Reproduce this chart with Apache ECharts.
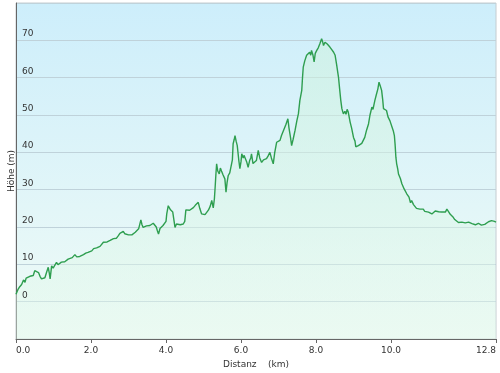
<!DOCTYPE html>
<html><head><meta charset="utf-8">
<script src="https://cdn.jsdelivr.net/npm/echarts@6/dist/echarts.min.js"></script>
<style>html,body{margin:0;padding:0;background:#fff}#c{width:500px;height:373px}</style>
</head><body><div id="c"></div>
<script>
const distances = [0.00,0.05,0.10,0.15,0.20,0.24,0.27,0.32,0.37,0.42,0.46,0.50,0.55,0.60,0.64,0.68,0.72,0.77,0.82,0.86,0.89,0.91,0.95,0.99,1.04,1.08,1.12,1.17,1.21,1.26,1.30,1.35,1.39,1.44,1.50,1.54,1.57,1.62,1.66,1.70,1.75,1.80,1.86,1.92,1.97,2.02,2.07,2.11,2.15,2.19,2.24,2.29,2.33,2.38,2.43,2.47,2.51,2.55,2.60,2.64,2.68,2.73,2.77,2.82,2.86,2.90,2.95,3.00,3.05,3.09,3.13,3.18,3.22,3.27,3.31,3.33,3.36,3.39,3.44,3.48,3.53,3.57,3.62,3.66,3.70,3.74,3.77,3.80,3.84,3.88,3.92,3.97,4.00,4.02,4.06,4.09,4.12,4.15,4.18,4.21,4.24,4.28,4.33,4.38,4.42,4.46,4.50,4.53,4.58,4.63,4.68,4.73,4.78,4.82,4.86,4.90,4.95,5.00,5.04,5.08,5.13,5.18,5.22,5.26,5.29,5.31,5.33,5.35,5.38,5.42,5.45,5.48,5.52,5.57,5.60,5.63,5.66,5.70,5.75,5.77,5.79,5.82,5.84,5.87,5.90,5.94,5.97,6.00,6.02,6.06,6.08,6.11,6.15,6.19,6.23,6.26,6.28,6.32,6.37,6.41,6.44,6.46,6.50,6.55,6.60,6.64,6.68,6.72,6.77,6.81,6.86,6.90,6.95,7.00,7.04,7.08,7.12,7.16,7.20,7.25,7.28,7.32,7.35,7.39,7.44,7.49,7.53,7.57,7.60,7.62,7.64,7.66,7.70,7.75,7.79,7.83,7.86,7.88,7.92,7.95,7.98,8.02,8.06,8.10,8.15,8.18,8.20,8.24,8.27,8.30,8.34,8.37,8.42,8.47,8.51,8.55,8.60,8.63,8.66,8.69,8.73,8.77,8.80,8.83,8.86,8.91,8.95,9.00,9.04,9.06,9.09,9.13,9.18,9.22,9.26,9.30,9.35,9.40,9.44,9.49,9.52,9.55,9.57,9.61,9.65,9.68,9.71,9.75,9.78,9.80,9.84,9.88,9.92,9.97,10.01,10.06,10.09,10.11,10.13,10.15,10.18,10.20,10.25,10.29,10.35,10.42,10.48,10.52,10.55,10.60,10.64,10.68,10.72,10.77,10.82,10.86,10.90,10.95,11.00,11.04,11.09,11.13,11.18,11.22,11.27,11.31,11.35,11.40,11.45,11.49,11.53,11.58,11.62,11.66,11.70,11.75,11.80,11.85,11.89,11.93,11.98,12.02,12.07,12.11,12.16,12.20,12.25,12.29,12.33,12.37,12.41,12.45,12.50,12.55,12.60,12.64,12.68,12.72,12.76,12.80];
const heights = [2.0,3.2,4.0,4.6,5.8,5.2,6.3,6.0,6.8,7.2,7.0,8.3,8.8,7.8,6.8,6.1,6.6,6.4,8.0,9.2,7.5,6.1,9.6,9.0,8.8,10.5,9.9,9.6,10.6,11.0,10.7,11.0,11.4,11.0,11.8,12.2,12.6,12.0,11.7,12.1,12.3,12.6,13.0,13.2,13.7,13.6,14.2,14.6,14.4,14.1,14.8,15.3,15.9,15.8,16.0,16.1,16.4,16.1,16.9,17.2,17.0,17.7,18.3,18.0,18.8,18.2,17.7,17.9,17.5,17.9,18.1,18.6,19.0,19.5,19.9,21.9,20.6,19.9,20.1,20.3,20.0,20.4,20.8,21.0,20.6,20.0,19.0,18.1,19.6,19.9,20.4,19.9,21.5,23.5,25.7,25.5,24.6,24.8,24.0,23.5,19.9,20.8,21.3,20.6,21.0,20.8,21.5,24.6,24.2,24.5,24.8,25.2,25.8,26.2,26.6,25.0,23.5,23.8,23.3,23.1,24.5,25.6,27.1,25.1,27.5,30.6,34.0,36.9,35.0,34.2,35.8,35.0,34.0,32.9,29.3,32.0,33.8,34.5,34.7,38.0,42.3,43.5,44.5,43.0,41.8,38.0,35.6,37.5,39.6,38.5,39.2,38.7,37.5,36.0,37.8,38.5,39.6,37.0,36.5,37.8,38.2,40.5,38.5,37.3,38.0,37.6,38.3,39.0,40.0,38.5,36.9,40.0,42.7,43.0,43.2,44.5,45.5,46.5,47.5,49.0,46.5,44.0,41.8,43.5,45.8,48.5,50.3,53.9,55.5,56.6,60.0,62.8,64.5,66.0,66.3,66.8,66.0,67.3,66.0,64.2,66.5,67.3,68.0,69.0,70.4,69.5,68.6,69.5,70.0,69.0,68.8,68.2,67.5,66.8,66.0,63.5,60.1,57.0,54.0,51.7,50.3,51.0,50.2,51.5,50.8,48.1,46.5,44.0,43.0,41.5,41.4,41.8,42.2,42.4,42.7,44.0,46.0,47.6,50.0,52.1,51.5,53.0,53.9,55.5,57.0,58.8,57.9,56.6,54.0,51.7,51.7,51.2,49.5,48.5,48.0,45.8,44.5,42.0,38.7,37.0,35.5,34.2,33.0,31.6,30.2,28.9,28.0,26.5,27.1,26.0,25.7,25.0,25.3,24.8,24.5,24.8,24.2,24.4,24.0,23.8,23.5,24.0,24.3,24.4,24.1,23.6,24.0,24.3,24.0,24.8,24.2,23.4,23.0,22.6,22.0,21.7,21.2,21.0,21.3,20.8,21.1,21.0,21.3,21.0,20.9,21.2,20.6,20.8,21.0,21.5,20.5,20.9,20.7,21.0,21.4,21.2,21.7,21.8,21.5,21.3];
const xTickValues = [0, 2, 4, 6, 8, 10, 12.8];
const yMin = -10, yMax = 80, yStep = 10;
const xTitle = 'Distanz    (km)';
const yTitle = 'Höhe (m)';

const chart = echarts.init(document.getElementById('c'), null, {renderer: 'canvas'});
const font = 'DejaVu Sans';
chart.setOption({
  animation: false,
  backgroundColor: '#ffffff',
  grid: {
    left: 16, right: 4, top: 3, bottom: 34,
    containLabel: false, outerBoundsMode: 'none',
    show: true,
    borderColor: '#c4ccd0', borderWidth: 1,
    backgroundColor: {type: 'linear', x: 0, y: 0, x2: 0, y2: 1,
      colorStops: [{offset: 0, color: '#cdeefb'}, {offset: 1, color: '#f0fbf6'}]}
  },
  xAxis: {
    type: 'value', min: 0, max: 12.8,
    name: xTitle, nameLocation: 'middle', nameGap: 21,
    nameTextStyle: {fontFamily: font, fontSize: 9, color: '#333'},
    axisLine: {show: true, onZero: false, lineStyle: {color: '#666', width: 1}},
    axisTick: {show: true, length: 4, lineStyle: {color: '#666'}, customValues: xTickValues},
    splitLine: {show: false},
    axisLabel: {customValues: xTickValues, fontFamily: font, fontSize: 9, color: '#333', margin: 7,
      formatter: v => v.toFixed(1), alignMinLabel: 'left', alignMaxLabel: 'right'}
  },
  yAxis: [{
    type: 'value', min: yMin, max: yMax, interval: yStep,
    name: yTitle, nameLocation: 'middle', nameGap: 0,
    nameTextStyle: {fontFamily: font, fontSize: 9, color: '#333'},
    axisLine: {show: true, onZero: false, lineStyle: {color: '#666', width: 1}},
    axisTick: {show: false},
    splitLine: {show: true, lineStyle: {color: '#bfd2da', width: 1}},
    axisLabel: {show: false}
  }, {
    type: 'value', min: yMin, max: yMax, interval: yStep, position: 'left', z: 10,
    axisLine: {show: false}, axisTick: {show: false}, splitLine: {show: false},
    axisLabel: {inside: true, margin: 6, fontFamily: font, fontSize: 9, color: '#333',
      verticalAlign: 'bottom', padding: [0, 0, 2, 0],
      formatter: v => (v === yMin || v === yMax) ? '' : String(v)}
  }],
  series: [{
    type: 'line', yAxisIndex: 0,
    data: distances.map((d, i) => [d, heights[i]]),
    showSymbol: false, symbol: 'none',
    lineStyle: {color: '#2e9e4f', width: 1.4},
    areaStyle: {origin: 'start', color: {type: 'linear', x: 0, y: 0, x2: 0, y2: 1,
      colorStops: [{offset: 0, color: 'rgba(205,242,220,0.75)'}, {offset: 1, color: 'rgba(228,249,236,0.6)'}]}}
  }]
});
</script></body></html>
